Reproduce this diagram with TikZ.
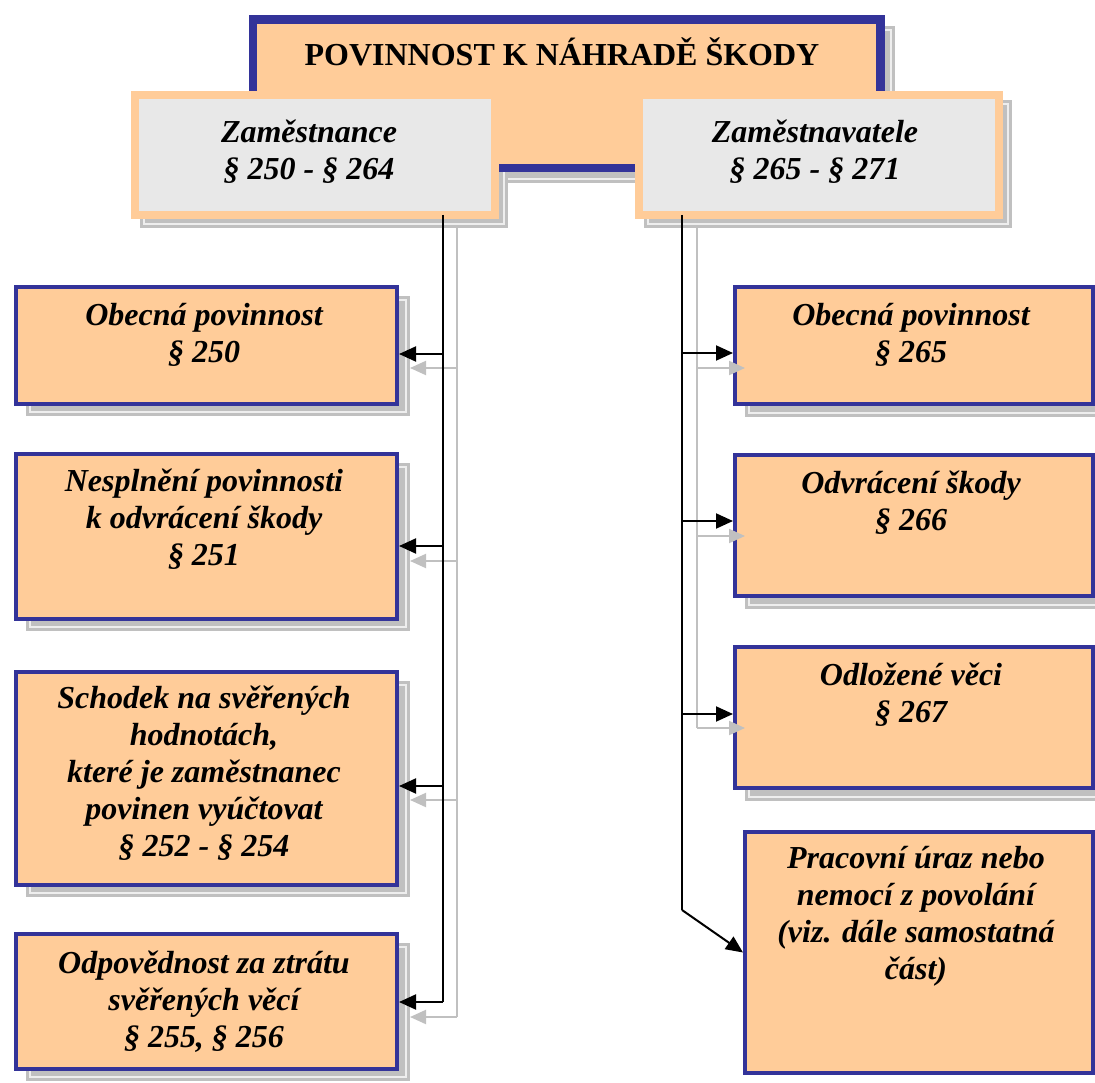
\documentclass[tikz,border=0pt]{standalone}
\usepackage{fontspec}
\setmainfont{Liberation Serif}
\usetikzlibrary{arrows.meta,calc}
\definecolor{peach}{HTML}{FFCC99}
\definecolor{navy}{HTML}{333399}
\definecolor{shadegray}{HTML}{C0C0C0}
\definecolor{shadeline}{HTML}{EEEEEE}
\definecolor{lightfill}{HTML}{E8E8E8}
\newcommand{\dropshade}[2]{%
  \fill[shadowbox] #1 rectangle #2;
  \draw[shadowinner] ($#1+(4,4)$) rectangle ($#2+(-4,-4)$);}
\begin{document}
\begin{tikzpicture}[x=1pt,y=-1pt,
  txt/.style={font=\fontsize{32}{37}\selectfont\bfseries\itshape, align=center, inner sep=0pt},
  titletxt/.style={font=\fontsize{32}{37}\selectfont\bfseries, inner sep=0pt},
  bluebox/.style={draw=navy, line width=4pt, fill=peach, inner sep=0pt, anchor=north west},
  graybox/.style={draw=peach, line width=8pt, fill=lightfill, inner sep=0pt, anchor=north west},
  shadowbox/.style={fill=shadegray},
  shadowinner/.style={draw=shadeline, line width=1.2pt},
  conn/.style={line width=2pt, draw=black},
  arr/.style={conn, -{Triangle[length=17pt,width=15pt]}},
  gconn/.style={line width=2pt, draw=shadegray},
  garr/.style={gconn, -{Triangle[length=16pt,width=14pt]}}
]
\useasboundingbox (0,0) rectangle (1095,1083);

% ---------- shadows ----------
\dropshade{(259,26)}{(895,183)}
\dropshade{(140,100)}{(508,228)}
\dropshade{(644,100)}{(1012,228)}
\dropshade{(26,296)}{(410,416)}
\dropshade{(26,463)}{(410,631)}
\dropshade{(26,681)}{(410,897)}
\dropshade{(26,943)}{(410,1081)}
\dropshade{(745,297)}{(1106,417)}
\dropshade{(745,465)}{(1106,609)}
\dropshade{(745,657)}{(1106,801)}

% ---------- shadow connectors (left) ----------
\coordinate (glt) at (457,228);
\coordinate (glb1) at (457,368);
\coordinate (glb2) at (457,561);
\coordinate (glb3) at (457,800);
\coordinate (glb4) at (457,1017);
\coordinate (glt1) at (410,368);
\coordinate (glt2) at (410,561);
\coordinate (glt3) at (410,800);
\coordinate (glt4) at (410,1017);
\draw[gconn] (glt) -- (glb4);
\draw[garr] (glb1) -- (glt1);
\draw[garr] (glb2) -- (glt2);
\draw[garr] (glb3) -- (glt3);
\draw[garr] (glb4) -- (glt4);

% ---------- title ----------
\node[draw=navy, line width=7pt, fill=peach, inner sep=0pt, anchor=north west,
      minimum width=629pt, minimum height=150pt] (title) at (248.5,15.5) {};
\draw[navy, line width=2.5pt] ($(title.north west)+(7,7)$) rectangle ($(title.south east)+(-7,-7)$);
\node[titletxt] (titletext) at (562,52) {POVINNOST K NÁHRADĚ ŠKODY};

% ---------- level 2 ----------
\node[graybox, minimum width=360pt, minimum height=120pt] (zam) at (131,91) {};
\node[graybox, minimum width=360pt, minimum height=120pt] (zvl) at (635,91) {};
\node[txt] (zamtext) at (309,152) {Zaměstnance\\§ 250 - § 264};
\node[txt] (zvltext) at (815,152) {Zaměstnavatele\\§ 265 - § 271};

% ---------- left boxes ----------
\node[bluebox, minimum width=381pt, minimum height=117pt] (l1) at (14,285) {};
\node[bluebox, minimum width=381pt, minimum height=165pt] (l2) at (14,452) {};
\node[bluebox, minimum width=381pt, minimum height=213pt] (l3) at (14,670) {};
\node[bluebox, minimum width=381pt, minimum height=135pt] (l4) at (14,932) {};
\node[txt] (l1text) at (204,335) {Obecná povinnost\\§ 250};
\node[txt] (l2text) at (204,519) {Nesplnění povinnosti\\k odvrácení škody\\§ 251};
\node[txt] (l3text) at (204,773) {Schodek na svěřených\\hodnotách,\\které je zaměstnanec\\povinen vyúčtovat\\§ 252 - § 254};
\node[txt] (l4text) at (204,1002) {Odpovědnost za ztrátu\\svěřených věcí\\§ 255, § 256};

% ---------- right boxes ----------
\node[bluebox, minimum width=358pt, minimum height=117pt] (r1) at (733,285) {};
\node[bluebox, minimum width=358pt, minimum height=141pt] (r2) at (733,453) {};
\node[bluebox, minimum width=358pt, minimum height=141pt] (r3) at (733,645) {};
\node[bluebox, minimum width=348pt, minimum height=241pt] (r4) at (743,830) {};
\node[txt] (r1text) at (911,335) {Obecná povinnost\\§ 265};
\node[txt] (r2text) at (911,503) {Odvrácení škody\\§ 266};
\node[txt] (r3text) at (911,695) {Odložené věci\\§ 267};
\node[txt] (r4text) at (916,916) {Pracovní úraz nebo\\nemocí z povolání\\(viz. dále samostatná\\část)};

% ---------- shadow connectors (right, over the boxes) ----------
\coordinate (grt) at (697,228);
\coordinate (grb1) at (697,368);
\coordinate (grb2) at (697,536);
\coordinate (grb3) at (697,728);
\coordinate (grt1) at (745,368);
\coordinate (grt2) at (745,536);
\coordinate (grt3) at (745,728);
\draw[gconn] (grt) -- (grb3);
\draw[garr] (grb1) -- (grt1);
\draw[garr] (grb2) -- (grt2);
\draw[garr] (grb3) -- (grt3);

% ---------- connectors ----------
\coordinate (lt) at (443,215);
\coordinate (lb1) at (443,354);
\coordinate (lb2) at (443,546);
\coordinate (lb3) at (443,786);
\coordinate (lb4) at (443,1002);
\draw[conn] (lt) -- (lb4);
\draw[arr] (lb1) -- (lb1 -| l1.east);
\draw[arr] (lb2) -- (lb2 -| l2.east);
\draw[arr] (lb3) -- (lb3 -| l3.east);
\draw[arr] (lb4) -- (lb4 -| l4.east);

\coordinate (rt) at (682,215);
\coordinate (rb1) at (682,353);
\coordinate (rb2) at (682,521);
\coordinate (rb3) at (682,714);
\coordinate (rk) at (682,910);
\draw[conn] (rt) -- (rk);
\draw[arr] (rb1) -- (rb1 -| r1.west);
\draw[arr] (rb2) -- (rb2 -| r2.west);
\draw[arr] (rb3) -- (rb3 -| r3.west);
\draw[arr] (rk) -- (r4.west);
\end{tikzpicture}
\end{document}
